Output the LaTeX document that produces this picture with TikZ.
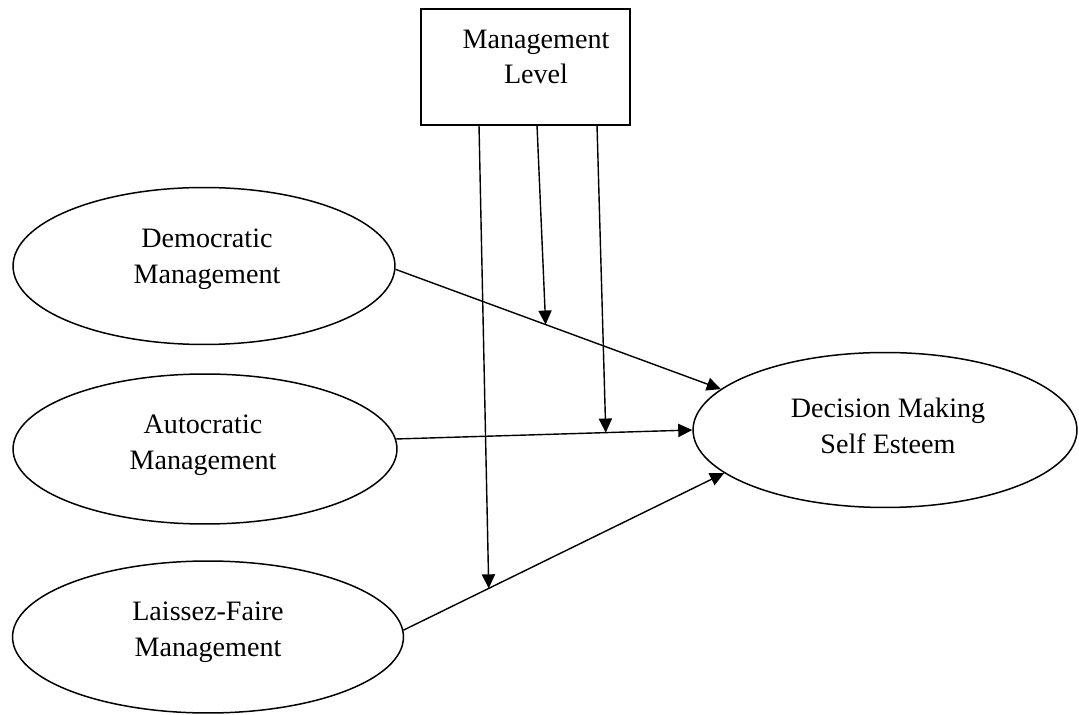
\documentclass[tikz,border=0pt]{standalone}
\usepackage{fontspec}
\setmainfont{Liberation Serif}
\usetikzlibrary{shapes.geometric,arrows.meta}
\begin{document}
\begin{tikzpicture}[x=0.02cm,y=-0.02cm,
  ell/.style={draw,ellipse,line width=0.85pt,inner sep=0pt},
  lbl/.style={align=center,font=\fontsize{16pt}{20.3pt}\selectfont,inner sep=0pt},
  arr/.style={line width=0.8pt,-{Triangle[length=8pt,width=7.5pt]}}]
\useasboundingbox (0,0) rectangle (1079,715);
% shapes
\node[draw,line width=0.85pt,minimum width=4.18cm,minimum height=2.32cm,inner sep=0pt] (box) at (525.5,67) {};
\node[ell,minimum width=7.64cm,minimum height=3.14cm] (dem) at (204,266) {};
\node[ell,minimum width=7.68cm,minimum height=3.0cm] (aut) at (205,449) {};
\node[ell,minimum width=7.82cm,minimum height=3.04cm] (lf) at (208,637) {};
\node[ell,minimum width=7.68cm,minimum height=3.1cm] (dec) at (885,430) {};
% texts
\node[lbl] (tbox) at (536,57) {Management\\Level};
\node[lbl] (tdem) at (207,259) {Democratic\\Management};
\node[lbl] (taut) at (203,445) {Autocratic\\Management};
\node[lbl] (tlf) at (208,632) {Laissez-Faire\\Management};
\node[lbl] (tdec) at (888,426) {Decision Making\\Self Esteem};
% main connectors
\draw[arr] (dem.-1) -- coordinate[pos=0.4615] (m1) (dec.166.5);
\draw[arr] (aut.3.3) -- coordinate[pos=0.708] (m2) (dec.west);
\draw[arr] (lf.2) -- coordinate[pos=0.266] (m3) (dec.195.5);
% moderating connectors
\coordinate (s1) at (479,125);
\coordinate (s2) at (537,125);
\coordinate (s3) at (597,125);
\draw[arr] (s1) -- (m3);
\draw[arr] (s2) -- (m1);
\draw[arr] (s3) -- (m2);
\end{tikzpicture}
\end{document}
